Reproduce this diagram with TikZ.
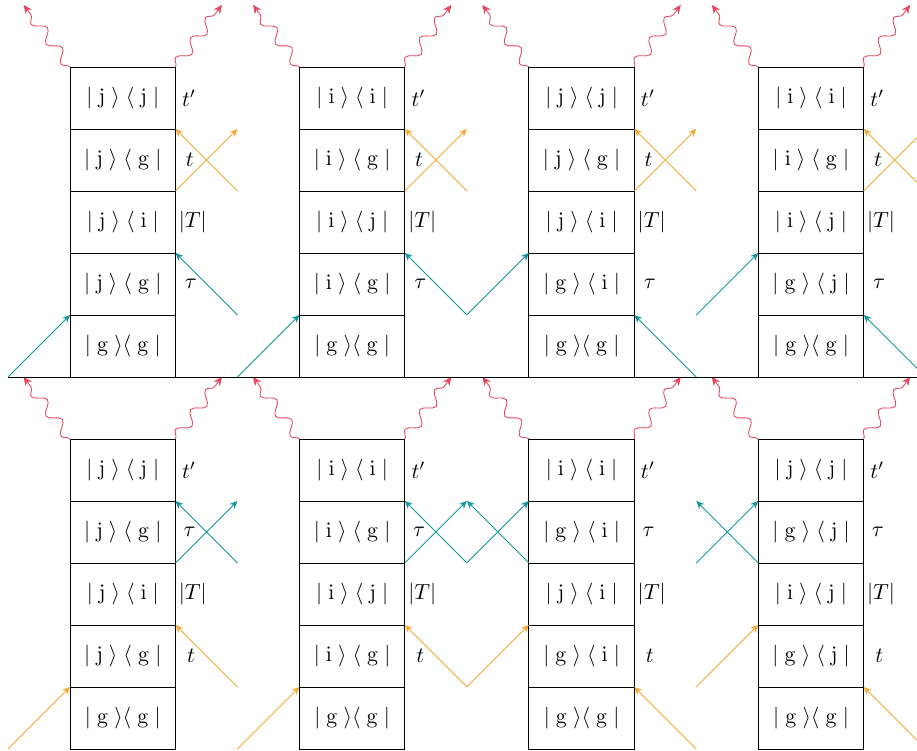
\documentclass[tikz,border=0pt]{standalone}
\usepackage{amsmath}
\usetikzlibrary{arrows.meta,positioning,decorations.pathmorphing}
\definecolor{EmRed}{HTML}{E4475F}
\definecolor{PuTeal}{HTML}{12969C}
\definecolor{PrOrange}{HTML}{F6A935}
\newcommand\dmat[2]{$|\;\mathrm{#1}\;\rangle\;\langle\;\mathrm{#2}\;|$}

\begin{document}
\begin{tikzpicture}[
    cell/.style={draw, outer sep=0pt, inner sep=0pt,
      minimum width=1.7cm, minimum height=1cm},
    tlabel/.style={inner sep=0pt},
    beam/.style={-{Stealth[length=3.6pt,width=3.2pt]}},
    emit/.style={EmRed, decorate, -{Stealth[length=4pt,width=3.6pt]},
      decoration={snake, amplitude=0.9mm, segment length=4mm, post length=1.6mm}}
  ]
  \useasboundingbox (-1.13,-0.02) rectangle (13.66,12.08);

  % free ends of the beams, in the gaps between the columns
  \foreach \k in {0,...,4}
    \foreach \h in {0,...,4} {
      \coordinate (a-g\k-\h) at ({3.7*\k-1},{6+\h});
      \coordinate (b-g\k-\h) at ({3.7*\k-1},\h);
    }

  % columns of density matrix elements
  \foreach \n/\x/\y/\rE/\rD/\rC/\rB/\lD/\lB in {
      a1/0/6/jj/jg/ji/jg/t/\tau,
      a2/3.7/6/ii/ig/ij/ig/t/\tau,
      a3/7.4/6/jj/jg/ji/gi/t/\tau,
      a4/11.1/6/ii/ig/ij/gj/t/\tau,
      b1/0/0/jj/jg/ji/jg/\tau/t,
      b2/3.7/0/ii/ig/ij/ig/\tau/t,
      b3/7.4/0/ii/gi/ji/gi/\tau/t,
      b4/11.1/0/jj/gj/ij/gj/\tau/t} {
    \node[cell] (\n-1) at (\x+0.85,\y+0.5) {$|\;\mathrm{g}\;\rangle\langle\;\mathrm{g}\;|$};
    \node[cell, above=0pt of \n-1] (\n-2) {\expandafter\dmat\rB};
    \node[cell, above=0pt of \n-2] (\n-3) {\expandafter\dmat\rC};
    \node[cell, above=0pt of \n-3] (\n-4) {\expandafter\dmat\rD};
    \node[cell, above=0pt of \n-4] (\n-5) {\expandafter\dmat\rE};
    \node[tlabel] (\n-l5) at ([xshift=0.22cm]\n-5.east) {$t'$};
    \node[tlabel] (\n-l4) at ([xshift=0.23cm]\n-4.east) {$\lD$};
    \node[tlabel] (\n-l3) at ([xshift=0.28cm]\n-3.east) {$|T|$};
    \node[tlabel] (\n-l2) at ([xshift=0.25cm]\n-2.east) {$\lB$};
    % emitted photons
    \coordinate (\n-wl) at ([shift={(-0.75,1)}]\n-5.north west);
    \coordinate (\n-wr) at ([shift={(0.75,1)}]\n-5.north east);
    \draw[emit] (\n-5.north west) -- (\n-wl);
    \draw[emit] (\n-5.north east) -- (\n-wr);
  }

  \draw (a-g0-0) -- (a-g4-0);

  % first pair of pulses: teal on top, orange below
  \foreach \p/\cl in {a/PuTeal, b/PrOrange} {
    \draw[beam, \cl] (\p-g0-0) -- (\p1-1.north west);
    \draw[beam, \cl] (\p-g1-1) -- (\p1-2.north east);
    \draw[beam, \cl] (\p-g1-0) -- (\p2-1.north west);
    \draw[beam, \cl] (\p-g2-1) -- (\p2-2.north east);
    \draw[beam, \cl] (\p-g2-1) -- (\p3-2.north west);
    \draw[beam, \cl] (\p-g3-0) -- (\p3-1.north east);
    \draw[beam, \cl] (\p-g3-1) -- (\p4-2.north west);
    \draw[beam, \cl] (\p-g4-0) -- (\p4-1.north east);
  }

  % crossing pulses
  \foreach \k in {1,...,4} {
    \draw[beam, PrOrange] (a\k-3.north east) -- (a-g\k-4);
    \draw[beam, PrOrange] (a-g\k-3) -- (a\k-4.north east);
  }
  \draw[beam, PuTeal] (b1-3.north east) -- (b-g1-4);
  \draw[beam, PuTeal] (b-g1-3) -- (b1-4.north east);
  \draw[beam, PuTeal] (b2-3.north east) -- (b-g2-4);
  \draw[beam, PuTeal] (b-g2-3) -- (b2-4.north east);
  \draw[beam, PuTeal] (b-g2-3) -- (b3-4.north west);
  \draw[beam, PuTeal] (b3-3.north west) -- (b-g2-4);
  \draw[beam, PuTeal] (b-g3-3) -- (b4-4.north west);
  \draw[beam, PuTeal] (b4-3.north west) -- (b-g3-4);
\end{tikzpicture}
\end{document}
